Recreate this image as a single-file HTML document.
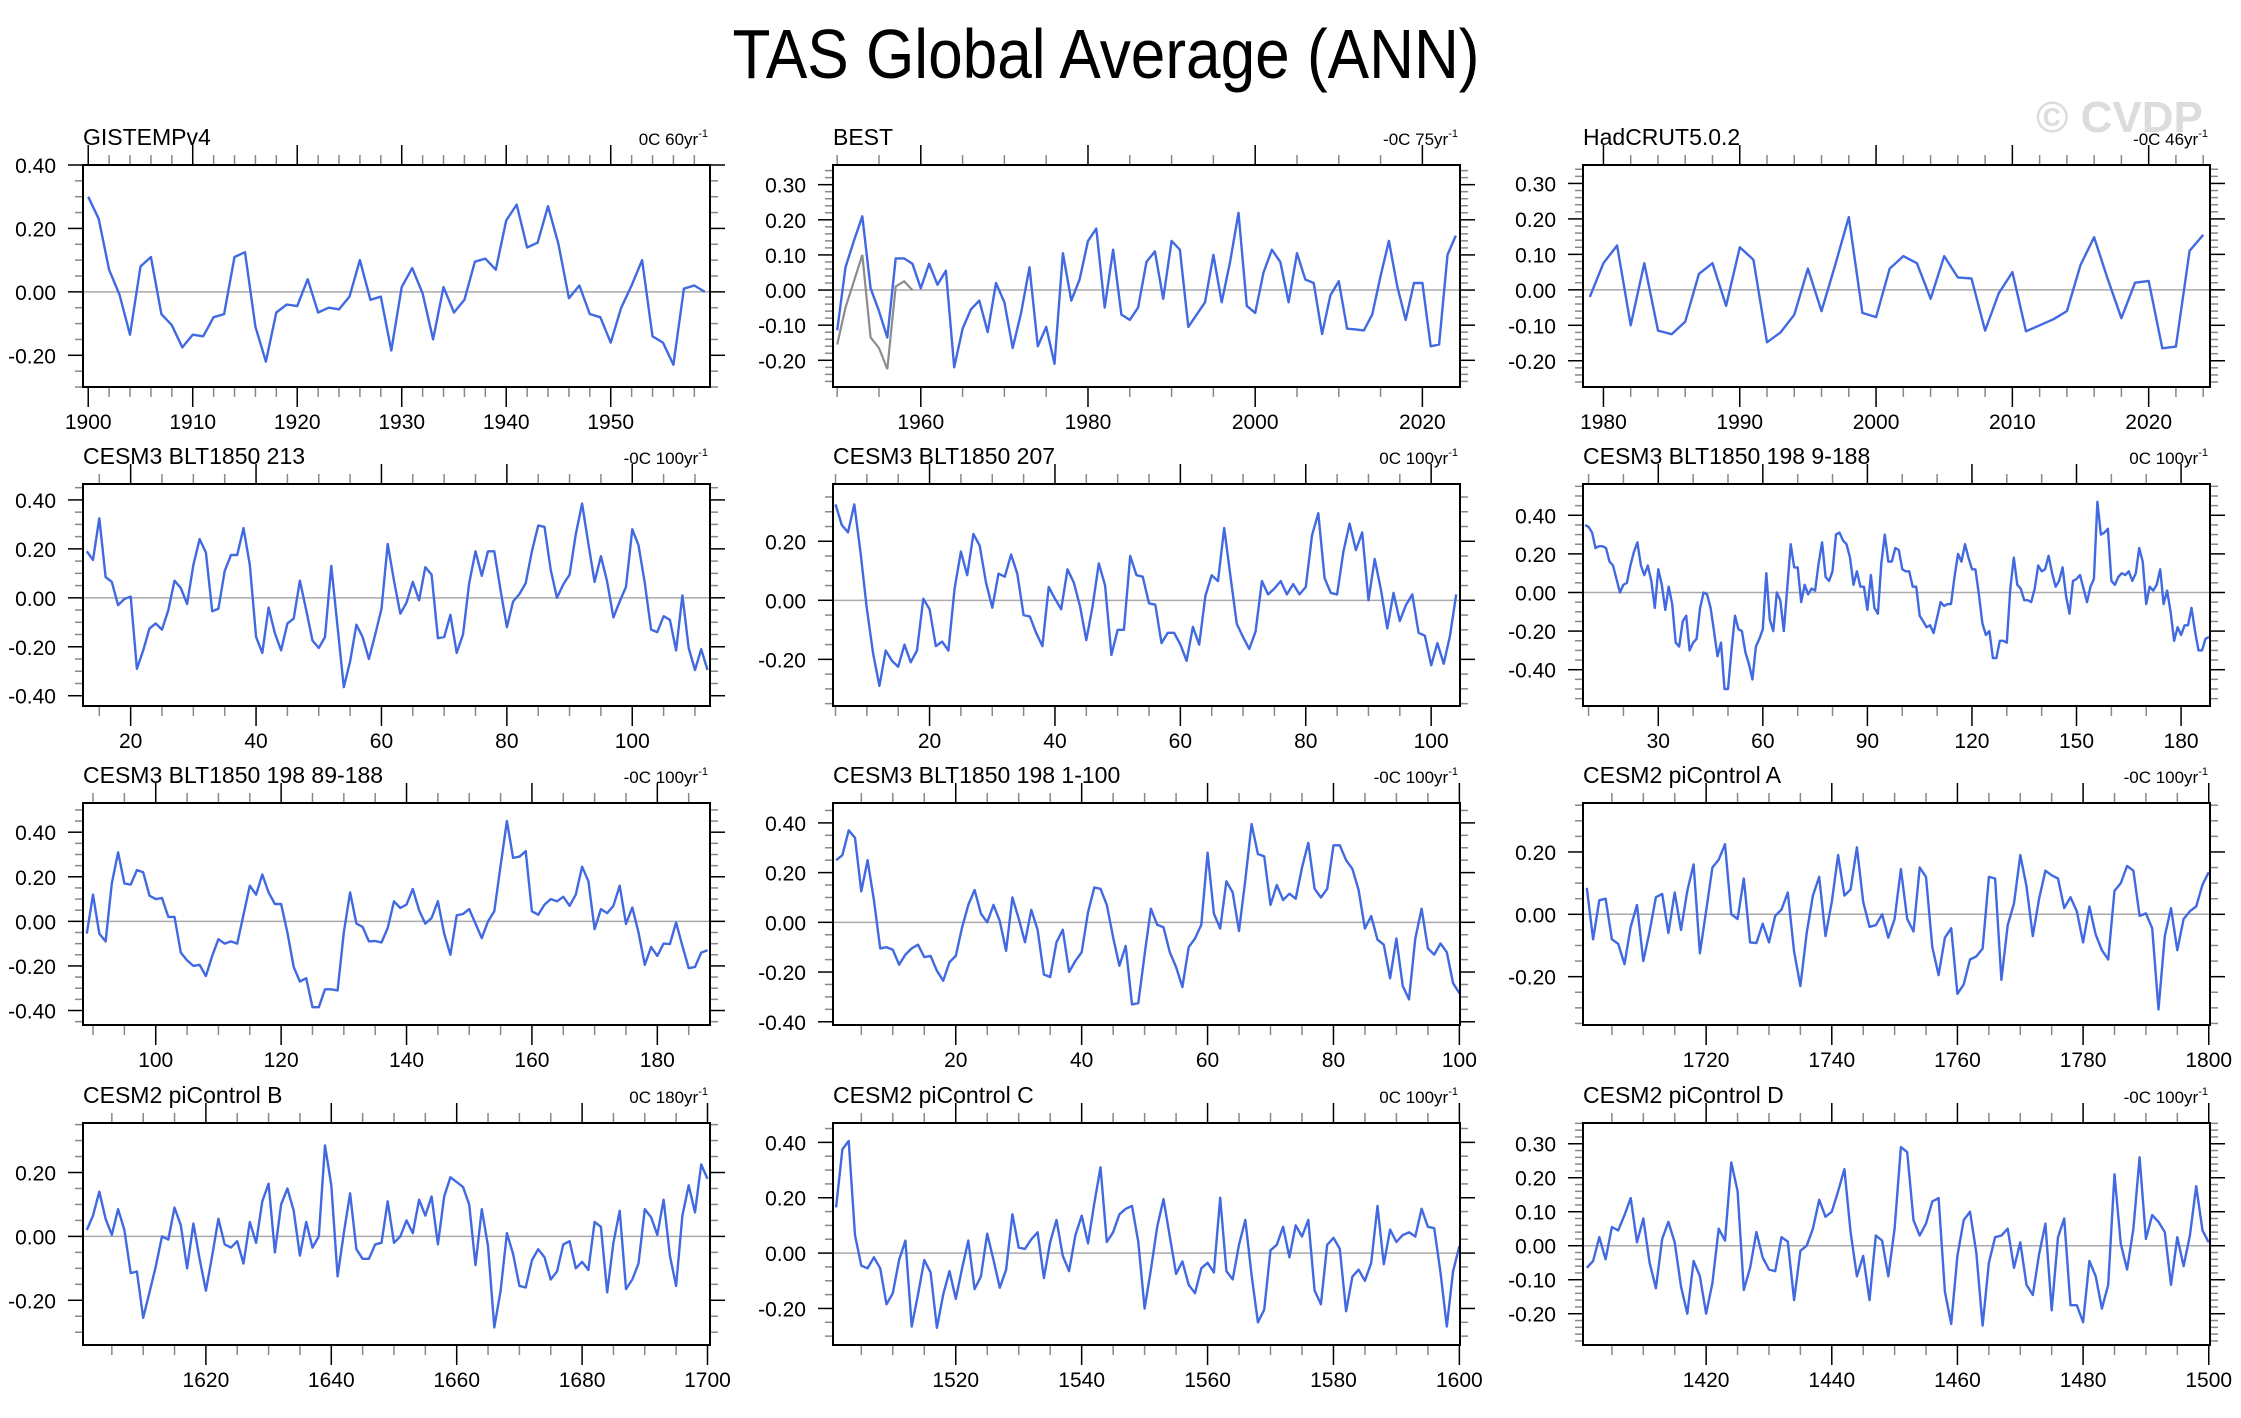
<!DOCTYPE html>
<html><head><meta charset="utf-8">
<style>
html,body{margin:0;padding:0;background:#fff;}
svg{display:block;font-family:"Liberation Sans",sans-serif;}
</style></head>
<body>
<svg id="chart" width="2241" height="1418" viewBox="0 0 2241 1418" xmlns="http://www.w3.org/2000/svg">
<rect width="2241" height="1418" fill="#fff"/>
<text x="1106" y="78" font-size="70" text-anchor="middle" textLength="747" lengthAdjust="spacingAndGlyphs" fill="#000">TAS Global Average (ANN)</text>
<text x="2036" y="132" font-size="44" font-weight="bold" fill="#dcdcdc">© CVDP</text>
</svg>
<script>
// ---- data ----
const titles = ["GISTEMPv4","BEST","HadCRUT5.0.2","CESM3 BLT1850 213","CESM3 BLT1850 207","CESM3 BLT1850 198 9-188","CESM3 BLT1850 198 89-188","CESM3 BLT1850 198 1-100","CESM2 piControl A","CESM2 piControl B","CESM2 piControl C","CESM2 piControl D"];
const trends = ["0C 60yr","-0C 75yr","-0C 46yr","-0C 100yr","0C 100yr","0C 100yr","-0C 100yr","-0C 100yr","-0C 100yr","0C 180yr","0C 100yr","-0C 100yr"];
const startYears = [1900,1950,1979,13,5,9,89,1,1701,1601,1501,1401];
const xMins = [1899.5,1949.5,1978.5,12.4,4.6,8.4,88.4,0.5,1700.4,1600.4,1500.5,1400.4];
const xMaxs = [1959.5,2024.5,2024.5,112.4,104.6,188.3,188.4,100.1,1800.2,1700.4,1600.1,1500.2];
const yMins = [-0.30,-0.276,-0.274,-0.442,-0.358,-0.588,-0.465,-0.413,-0.355,-0.34,-0.332,-0.292];
const yMaxs = [0.40,0.356,0.352,0.465,0.394,0.562,0.531,0.48,0.357,0.355,0.47,0.361];
const xMajor = [10,20,10,20,20,30,20,20,20,20,20,20];
const xMinor = [2,5,2,5,5,10,5,5,5,5,5,5];
const yMajor = [0.2,0.1,0.1,0.2,0.2,0.2,0.2,0.2,0.2,0.2,0.2,0.1];
const yMinor = [0.05,0.02,0.02,0.05,0.05,0.05,0.05,0.05,0.05,0.05,0.05,0.02];

const s0 = [0.30,0.23,0.07,-0.01,-0.135,0.08,0.11,-0.07,-0.105,-0.175,-0.135,-0.14,-0.08,-0.07,0.11,0.125,-0.11,-0.22,-0.065,-0.04,-0.045,0.04,-0.065,-0.05,-0.055,-0.015,0.10,-0.025,-0.015,-0.185,0.015,0.075,-0.005,-0.15,0.015,-0.065,-0.025,0.095,0.105,0.07,0.225,0.275,0.14,0.155,0.27,0.15,-0.02,0.02,-0.07,-0.08,-0.16,-0.05,0.02,0.10,-0.14,-0.16,-0.23,0.01,0.02,0.00];
const s1 = [-0.115,0.065,0.14,0.21,0.005,-0.06,-0.135,0.09,0.09,0.075,0.005,0.075,0.015,0.055,-0.22,-0.11,-0.055,-0.03,-0.12,0.02,-0.035,-0.165,-0.065,0.065,-0.16,-0.105,-0.21,0.105,-0.03,0.03,0.14,0.175,-0.05,0.115,-0.07,-0.085,-0.05,0.08,0.11,-0.025,0.14,0.115,-0.105,-0.07,-0.035,0.10,-0.035,0.08,0.22,-0.045,-0.065,0.05,0.115,0.08,-0.035,0.105,0.03,0.02,-0.125,-0.015,0.025,-0.11,-0.112,-0.115,-0.07,0.04,0.14,0.01,-0.085,0.02,0.02,-0.16,-0.155,0.10,0.155];
const s1gray = [-0.155,-0.05,0.025,0.10,-0.135,-0.165,-0.225,0.01,0.025,0.0];
const s2 = [-0.02,0.075,0.125,-0.10,0.075,-0.115,-0.125,-0.09,0.045,0.075,-0.045,0.12,0.085,-0.148,-0.12,-0.07,0.06,-0.06,0.07,0.205,-0.065,-0.077,0.06,0.095,0.075,-0.025,0.095,0.035,0.032,-0.115,-0.01,0.05,-0.117,-0.10,-0.083,-0.06,0.07,0.148,0.03,-0.08,0.02,0.025,-0.165,-0.16,0.11,0.155];
const s3 = [0.19,0.155,0.325,0.085,0.065,-0.03,-0.005,0.005,-0.29,-0.215,-0.125,-0.105,-0.13,-0.05,0.07,0.04,-0.025,0.135,0.24,0.185,-0.055,-0.045,0.11,0.175,0.175,0.285,0.135,-0.16,-0.225,-0.04,-0.145,-0.215,-0.105,-0.085,0.07,-0.05,-0.175,-0.205,-0.16,0.13,-0.12,-0.365,-0.26,-0.11,-0.16,-0.25,-0.15,-0.045,0.22,0.07,-0.065,-0.02,0.065,-0.01,0.125,0.095,-0.165,-0.16,-0.07,-0.225,-0.15,0.06,0.19,0.09,0.19,0.19,0.03,-0.12,-0.015,0.015,0.06,0.19,0.295,0.29,0.115,0.0,0.055,0.095,0.26,0.385,0.22,0.065,0.17,0.065,-0.08,-0.015,0.045,0.28,0.215,0.06,-0.13,-0.14,-0.075,-0.09,-0.215,0.01,-0.205,-0.295,-0.21,-0.295];
const s4 = [0.325,0.255,0.23,0.325,0.16,-0.03,-0.18,-0.29,-0.17,-0.205,-0.225,-0.15,-0.21,-0.17,0.005,-0.03,-0.155,-0.14,-0.17,0.04,0.165,0.085,0.225,0.185,0.06,-0.025,0.09,0.08,0.155,0.09,-0.05,-0.055,-0.11,-0.155,0.045,0.005,-0.03,0.105,0.06,-0.02,-0.135,-0.02,0.125,0.05,-0.185,-0.1,-0.1,0.15,0.085,0.08,-0.01,-0.015,-0.145,-0.11,-0.11,-0.15,-0.205,-0.09,-0.15,0.015,0.085,0.065,0.245,0.08,-0.08,-0.125,-0.165,-0.105,0.065,0.02,0.04,0.065,0.02,0.055,0.02,0.045,0.22,0.295,0.075,0.025,0.02,0.165,0.26,0.17,0.23,0.0,0.14,0.035,-0.095,0.025,-0.07,-0.015,0.02,-0.11,-0.12,-0.22,-0.145,-0.215,-0.12,0.02];
const s5 = [0.35,0.34,0.31,0.23,0.24,0.24,0.23,0.16,0.14,0.07,0.0,0.04,0.05,0.14,0.21,0.26,0.14,0.09,0.14,0.06,-0.08,0.12,0.04,-0.09,0.03,-0.06,-0.26,-0.28,-0.15,-0.12,-0.3,-0.26,-0.24,-0.08,0.0,-0.01,-0.08,-0.2,-0.33,-0.26,-0.5,-0.5,-0.3,-0.12,-0.19,-0.2,-0.31,-0.37,-0.45,-0.28,-0.24,-0.19,0.1,-0.14,-0.2,0.0,-0.04,-0.2,0.02,0.25,0.13,0.13,-0.05,0.04,-0.01,0.02,0.01,0.15,0.26,0.08,0.06,0.11,0.3,0.31,0.27,0.25,0.18,0.04,0.11,0.03,0.03,-0.09,0.09,-0.08,-0.11,0.15,0.3,0.16,0.16,0.23,0.22,0.12,0.11,0.11,0.03,0.03,-0.12,-0.15,-0.18,-0.17,-0.21,-0.13,-0.05,-0.07,-0.06,-0.06,0.08,0.2,0.16,0.25,0.18,0.12,0.12,-0.01,-0.16,-0.22,-0.2,-0.34,-0.34,-0.25,-0.25,-0.26,0.02,0.18,0.04,0.02,-0.04,-0.04,-0.05,0.02,0.14,0.11,0.12,0.19,0.1,0.03,0.06,0.13,-0.02,-0.11,0.06,0.07,0.09,0.02,-0.05,0.03,0.07,0.47,0.3,0.31,0.33,0.06,0.04,0.08,0.1,0.09,0.11,0.06,0.1,0.23,0.16,-0.06,0.03,0.01,0.04,0.12,-0.06,0.01,-0.1,-0.25,-0.18,-0.22,-0.17,-0.17,-0.08,-0.2,-0.3,-0.3,-0.24,-0.23];
const s6 = [-0.055,0.12,-0.055,-0.09,0.17,0.31,0.17,0.165,0.23,0.22,0.115,0.1,0.105,0.02,0.02,-0.14,-0.175,-0.2,-0.195,-0.245,-0.155,-0.08,-0.1,-0.09,-0.1,0.03,0.16,0.12,0.21,0.13,0.078,0.078,-0.05,-0.205,-0.27,-0.255,-0.385,-0.385,-0.305,-0.305,-0.31,-0.05,0.13,-0.01,-0.025,-0.09,-0.088,-0.095,-0.03,0.09,0.06,0.075,0.145,0.05,-0.01,0.015,0.09,-0.055,-0.15,0.027,0.033,0.055,-0.01,-0.075,0.0,0.045,0.25,0.45,0.285,0.29,0.315,0.045,0.03,0.075,0.1,0.09,0.11,0.07,0.12,0.245,0.18,-0.035,0.055,0.037,0.07,0.16,-0.012,0.062,-0.05,-0.195,-0.115,-0.155,-0.1,-0.102,-0.005,-0.11,-0.21,-0.205,-0.14,-0.13];
const s7 = [0.25,0.27,0.37,0.34,0.125,0.25,0.09,-0.105,-0.1,-0.11,-0.17,-0.13,-0.105,-0.09,-0.14,-0.135,-0.195,-0.235,-0.16,-0.135,-0.02,0.07,0.13,0.035,0.0,0.07,0.005,-0.115,0.1,0.015,-0.08,0.05,-0.03,-0.21,-0.22,-0.08,-0.03,-0.2,-0.155,-0.12,0.04,0.14,0.135,0.07,-0.06,-0.175,-0.095,-0.33,-0.325,-0.13,0.055,-0.01,-0.02,-0.12,-0.18,-0.26,-0.1,-0.065,-0.01,0.28,0.035,-0.025,0.165,0.12,-0.035,0.17,0.395,0.275,0.265,0.07,0.15,0.09,0.115,0.095,0.22,0.32,0.135,0.1,0.135,0.31,0.31,0.25,0.215,0.13,-0.025,0.025,-0.07,-0.09,-0.225,-0.065,-0.255,-0.31,-0.065,0.055,-0.105,-0.13,-0.085,-0.12,-0.245,-0.285];
const s8 = [0.085,-0.08,0.045,0.05,-0.08,-0.095,-0.16,-0.04,0.03,-0.15,-0.055,0.055,0.065,-0.06,0.07,-0.05,0.075,0.16,-0.125,0.01,0.15,0.175,0.225,0.0,-0.015,0.115,-0.09,-0.092,-0.03,-0.09,-0.005,0.015,0.07,-0.12,-0.23,-0.06,0.06,0.12,-0.07,0.04,0.19,0.06,0.08,0.215,0.04,-0.04,-0.035,0.0,-0.075,-0.015,0.145,-0.015,-0.055,0.15,0.12,-0.105,-0.195,-0.075,-0.045,-0.255,-0.225,-0.145,-0.135,-0.11,0.12,0.115,-0.21,-0.035,0.035,0.19,0.09,-0.07,0.05,0.14,0.125,0.115,0.02,0.055,0.01,-0.09,0.025,-0.065,-0.115,-0.145,0.075,0.1,0.155,0.14,-0.005,0.003,-0.045,-0.305,-0.07,0.02,-0.115,-0.015,0.01,0.025,0.095,0.135];
const s9 = [0.02,0.065,0.14,0.055,0.005,0.085,0.02,-0.115,-0.11,-0.255,-0.175,-0.095,0.0,-0.01,0.09,0.035,-0.1,0.04,-0.07,-0.17,-0.06,0.055,-0.025,-0.035,-0.015,-0.085,0.045,-0.02,0.11,0.165,-0.05,0.1,0.15,0.08,-0.06,0.045,-0.035,0.0,0.285,0.16,-0.125,0.01,0.135,-0.04,-0.07,-0.07,-0.025,-0.02,0.11,-0.02,0.0,0.05,0.01,0.115,0.065,0.125,-0.025,0.125,0.185,0.17,0.155,0.1,-0.09,0.085,-0.03,-0.285,-0.17,0.01,-0.055,-0.155,-0.16,-0.075,-0.04,-0.065,-0.135,-0.11,-0.025,-0.015,-0.1,-0.08,-0.105,0.045,0.03,-0.175,-0.02,0.08,-0.165,-0.135,-0.085,0.085,0.06,0.005,0.115,-0.06,-0.155,0.065,0.16,0.075,0.225,0.18];
const s10 = [0.165,0.375,0.405,0.065,-0.045,-0.055,-0.015,-0.055,-0.185,-0.145,-0.025,0.045,-0.265,-0.15,-0.025,-0.07,-0.27,-0.15,-0.065,-0.165,-0.055,0.045,-0.13,-0.085,0.07,-0.025,-0.125,-0.06,0.14,0.02,0.015,0.05,0.075,-0.09,0.04,0.12,-0.01,-0.065,0.065,0.135,0.035,0.18,0.31,0.04,0.075,0.14,0.16,0.17,0.04,-0.2,-0.06,0.095,0.195,0.06,-0.075,-0.03,-0.115,-0.145,-0.055,-0.035,-0.07,0.2,-0.065,-0.095,0.03,0.12,-0.08,-0.25,-0.205,0.01,0.03,0.095,-0.015,0.1,0.06,0.12,-0.135,-0.185,0.03,0.055,0.015,-0.21,-0.085,-0.06,-0.1,-0.035,0.17,-0.04,0.085,0.04,0.065,0.075,0.06,0.16,0.095,0.09,-0.07,-0.265,-0.065,0.025];
const s11 = [-0.065,-0.045,0.025,-0.04,0.055,0.045,0.09,0.14,0.01,0.08,-0.05,-0.125,0.02,0.07,0.01,-0.12,-0.2,-0.045,-0.09,-0.2,-0.11,0.05,0.015,0.245,0.16,-0.13,-0.065,0.04,-0.035,-0.07,-0.075,0.025,0.012,-0.16,-0.015,0.0,0.05,0.135,0.085,0.1,0.16,0.225,0.04,-0.09,-0.03,-0.16,0.03,0.015,-0.09,0.05,0.29,0.275,0.075,0.03,0.065,0.13,0.14,-0.135,-0.23,-0.03,0.075,0.1,-0.02,-0.235,-0.05,0.025,0.03,0.05,-0.065,0.01,-0.115,-0.145,-0.025,0.065,-0.19,0.025,0.08,-0.175,-0.175,-0.225,-0.045,-0.09,-0.185,-0.115,0.21,0.005,-0.07,0.05,0.26,0.02,0.09,0.07,0.04,-0.115,0.025,-0.06,0.03,0.175,0.045,0.01];
const series = [s0,s1,s2,s3,s4,s5,s6,s7,s8,s9,s10,s11];

// ---- layout ----
const NS = "http://www.w3.org/2000/svg";
const svg = document.getElementById('chart');
const colLeft = [83, 833, 1583];
const rowTop = [165, 484, 803, 1123];
const PW = 627, PH = 222;

function mk(tag, attrs, parent){
  const e = document.createElementNS(NS, tag);
  for (const k in attrs) e.setAttribute(k, attrs[k]);
  (parent||svg).appendChild(e);
  return e;
}
function eps(v){ return Math.round(v*1e6)/1e6; }

for (let p = 0; p < 12; p++) {
  const L = colLeft[p % 3], T = rowTop[Math.floor(p / 3)], R = L + PW, B = T + PH;
  const g = mk('g', {});
  
  
  const xs = v => L + (v - xMins[p]) / (xMaxs[p] - xMins[p]) * PW;
  const ys = v => B - (v - yMins[p]) / (yMaxs[p] - yMins[p]) * PH;

  const t = mk('text', {x: L, y: T - 20, 'font-size': 23, fill: '#000'}, g);
  
  
  t.textContent = titles[p];
  const tr = mk('text', {x: R - 2, y: T - 20, 'font-size': 17, fill: '#000', 'text-anchor': 'end'}, g);
  
  
  tr.appendChild(document.createTextNode(trends[p]));
  const sup = mk('tspan', {'font-size': 11, dy: -8}, tr);
  sup.textContent = '-1';

  const tickG = mk('g', {stroke: '#000', 'stroke-width': 1.5}, g);
  
  
  const yStart = Math.ceil(yMins[p] / yMinor[p] - 1e-6);
  for (let k = yStart; k * yMinor[p] <= yMaxs[p] + 1e-9; k++) {
    const v = eps(k * yMinor[p]);
    const y = ys(v);
    const isMajor = Math.abs(v / yMajor[p] - Math.round(v / yMajor[p])) < 1e-6;
    const len = isMajor ? 15 : 8;
    mk('line', {x1: L - len, y1: y, x2: L, y2: y, stroke: isMajor ? '#000' : '#888'}, tickG);
    mk('line', {x1: R, y1: y, x2: R + len, y2: y, stroke: isMajor ? '#000' : '#888'}, tickG);
    if (isMajor) {
      const lb = mk('text', {x: L - 27, y: y + 8, 'font-size': 21, 'text-anchor': 'end', fill: '#000', stroke: 'none'}, g);
      
      
      lb.textContent = v.toFixed(2);
    }
  }
  const xStart = Math.ceil(xMins[p] / xMinor[p] - 1e-6);
  for (let k = xStart; k * xMinor[p] <= xMaxs[p] + 1e-9; k++) {
    const v = k * xMinor[p];
    const x = xs(v);
    const isMajor = v % xMajor[p] === 0;
    const len = isMajor ? 20 : 10;
    mk('line', {x1: x, y1: T - len, x2: x, y2: T, stroke: isMajor ? '#000' : '#888'}, tickG);
    mk('line', {x1: x, y1: B, x2: x, y2: B + len, stroke: isMajor ? '#000' : '#888'}, tickG);
    if (isMajor) {
      const lb = mk('text', {x: x, y: B + 42, 'font-size': 21, 'text-anchor': 'middle', fill: '#000', stroke: 'none'}, g);
      
      
      lb.textContent = String(v);
    }
  }

  const zl = mk('line', {x1: L, y1: ys(0), x2: R, y2: ys(0), stroke: '#aaa', 'stroke-width': 1.5}, g);
  
  

  if (p === 1) {
    const pts = s1gray.map((v, i) => xs(1950 + i).toFixed(1) + ',' + ys(v).toFixed(1)).join(' ');
    const gl = mk('polyline', {points: pts, fill: 'none', stroke: '#8c8c8c', 'stroke-width': 2.2}, g);
    
    
  }
  const d = series[p];
  const pts = d.map((v, i) => xs(startYears[p] + i).toFixed(1) + ',' + ys(v).toFixed(1)).join(' ');
  const pl = mk('polyline', {points: pts, fill: 'none', stroke: '#4169e1', 'stroke-width': 2.4, 'stroke-linejoin': 'round'}, g);
  
  

  const fr = mk('rect', {x: L, y: T, width: PW, height: PH, fill: 'none', stroke: '#000', 'stroke-width': 2}, g);
  
  
}
</script>
</body></html>
